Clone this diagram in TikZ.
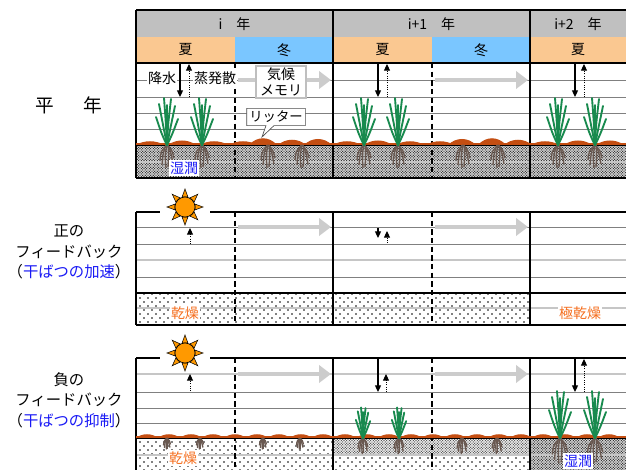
\documentclass[tikz,border=0pt]{standalone}
\usepackage{fontspec}
\setmainfont{Noto Sans CJK JP}
\usepackage{tikz}
\usetikzlibrary{shapes,shapes.callouts,arrows.meta,patterns}
\definecolor{natsu}{RGB}{250,200,145}
\definecolor{fuyu}{RGB}{122,198,255}
\definecolor{hdr}{RGB}{192,192,192}
\definecolor{leaf}{RGB}{24,138,78}
\definecolor{litter}{RGB}{196,78,18}
\definecolor{rootc}{RGB}{105,88,80}
\definecolor{sunc}{RGB}{255,153,0}
\definecolor{dryc}{RGB}{245,110,30}
\definecolor{wetc}{RGB}{25,25,245}
\pgfdeclarepatternformonly{drydots}{\pgfqpoint{-1pt}{-1pt}}{\pgfqpoint{7pt}{7pt}}{\pgfqpoint{6pt}{6pt}}{%
  \pgfpathcircle{\pgfqpoint{0pt}{0pt}}{0.6pt}%
  \pgfpathcircle{\pgfqpoint{3pt}{3pt}}{0.6pt}%
  \pgfusepath{fill}}
\pgfdeclarepatternformonly{wetdots}{\pgfqpoint{-0.5pt}{-0.5pt}}{\pgfqpoint{2.5pt}{2.5pt}}{\pgfqpoint{2pt}{2pt}}{%
  \pgfpathcircle{\pgfqpoint{0pt}{0pt}}{0.5pt}%
  \pgfpathcircle{\pgfqpoint{1pt}{1pt}}{0.5pt}%
  \pgfusepath{fill}}

\begin{document}
\begin{tikzpicture}[x=0.75pt,y=-0.75pt,
  frame/.style={line width=1.6pt},
  gridline/.style={gray, line width=0.6pt},
  lightline/.style={gray!45, line width=0.8pt},
  season/.style={dashed, dash pattern=on 4pt off 2.5pt, line width=1.2pt},
  memory/.style={gray!40, line width=3pt, -{Triangle[length=9pt,width=13pt]}},
  rain/.style={line width=0.9pt, -{Triangle[length=5pt,width=4.5pt]}},
  evap/.style={densely dotted, line width=0.7pt, -{Triangle[length=5pt,width=4.5pt]}},
  blade/.style={leaf, line width=1.4pt, line cap=round},
  root/.style={rootc, line width=1pt},
  lbl/.style={font=\fontsize{10.5}{12.5}\selectfont},
  side/.style={font=\fontsize{11.5}{15.5}\selectfont, align=center},
  tag/.style={lbl, fill=white, inner sep=1pt},
  wet/.style={pattern=wetdots, pattern color=black!85, preaction={fill=gray!28}},
  damp/.style={pattern=wetdots, pattern color=black!70, preaction={fill=gray!8}},
  dry/.style={pattern=drydots, pattern color=black},
  tuft/.pic={
    \draw[blade] (0,0) .. controls (-1,-20) .. (-3,-47);
    \draw[blade] (0,0) .. controls (1,-20) .. (4,-46);
    \draw[blade] (0,0) .. controls (0,-20) .. (0,-40);
    \draw[blade] (0,0) .. controls (-3,-15) .. (-8,-41);
    \draw[blade] (0,0) .. controls (3,-15) .. (8,-39);
    \draw[blade] (0,0) .. controls (-5,-10) .. (-11,-28);
    \draw[blade] (0,0) .. controls (5,-10) .. (11,-26);
  },
  roots/.pic={
    \draw[root] (-1,0) .. controls (-4,8) .. (-5,20);
    \draw[root] (0,0) .. controls (-2,10) .. (-1,23);
    \draw[root] (1,0) .. controls (2,10) .. (1,22);
    \draw[root] (1,0) .. controls (4,8) .. (6,19);
    \draw[root] (0,0) .. controls (-6,6) .. (-7,15);
    \draw[root] (0,0) .. controls (5,5) .. (7,13);
  },
  sun/.pic={
    \foreach \a in {0,45,...,315}
      \filldraw[fill=sunc, line width=0.4pt] (\a-16:10.5) -- (\a:18) -- (\a+16:10.5) -- cycle;
    \filldraw[fill=sunc, line width=0.5pt] (0,0) circle (10);
  }]
\useasboundingbox (0,0) rectangle (626,470);

% backgrounds and soil
\fill[hdr] (136,10) rectangle (626,37);
\foreach \a/\b/\c in {136/235/natsu,235/333/fuyu,333/432/natsu,432/530/fuyu,530/626/natsu}
  \fill[\c] (\a,37) rectangle (\b,63);
\fill[wet] (136,145) rectangle (626,178);
\fill[dry] (136,293) rectangle (530,325);
\fill[dry] (136,438) rectangle (333,470);
\fill[dry] (333,455) rectangle (530,470);
\fill[damp] (333,438) rectangle (530,455);
\fill[wet] (530,438) rectangle (626,470);

% layer lines
\foreach \y in {80,97,113,129,227,244,277,392,408,423}
  \draw[gridline] (136,\y) -- (626,\y);
\foreach \y in {162,260,308,374,455}
  \draw[lightline] (136,\y) -- (626,\y);
\foreach \x in {235,432} {
  \draw[season] (\x,63) -- (\x,178);
  \draw[season] (\x,212) -- (\x,325);
  \draw[season] (\x,358) -- (\x,470);
}

% frames
\draw[frame] (136,10) -- (626,10);
\draw[frame] (136,63) -- (626,63);
\draw[frame] (136,178) -- (626,178);
\draw[frame] (136,212) -- (160,212) (210,212) -- (626,212);
\draw[frame] (136,325) -- (626,325);
\draw[frame] (136,358) -- (160,358) (210,358) -- (626,358);
\foreach \x in {136,333,530} {
  \draw[frame] (\x,10) -- (\x,178);
  \draw[frame] (\x,212) -- (\x,325);
  \draw[frame] (\x,358) -- (\x,470);
}
\foreach \y in {145,293,438}
  \draw[line width=0.8pt] (136,\y) -- (626,\y);

% litter
\fill[litter] (136,143.5) rectangle (626,145.5);
\foreach \c/\h in {150/5,182/6,214/5,243/5,263/9,292/7,318/8,347/5,378/6,410/5,440/5,462/8,492/9,518/7,545/5,578/6,610/6}
  \fill[litter] (\c-14,145) .. controls (\c-6,145-\h) and (\c+6,145-\h) .. (\c+14,145) -- cycle;
\fill[litter] (136,436.5) rectangle (626,438.5);
\foreach \c in {147,169,...,626}
  \fill[litter] (\c-11,438) .. controls (\c-5,433) and (\c+5,433) .. (\c+11,438) -- cycle;

% plants and roots
\foreach \x in {167,202,268,302,364,398,463,498,558,595}
  \pic at (\x,145) {roots};
\foreach \x in {167,202,364,398,558,595}
  \pic at (\x,145) {tuft};
\foreach \x in {167,200,263,300}
  \pic[scale=0.5] at (\x,438) {roots};
\foreach \x in {363,399,462,497}
  \pic[scale=0.7] at (\x,438) {roots};
\foreach \x in {560,595}
  \pic[scale=1.1] at (\x,438) {roots};
\foreach \x in {363,399}
  \pic[scale=0.65] at (\x,438) {tuft};
\foreach \x in {560,595}
  \pic at (\x,438) {tuft};

% suns
\pic at (185,207) {sun};
\pic at (185,353) {sun};

% climate memory arrows
\foreach \y in {80,227,374} {
  \draw[memory] (238,\y) -- (331,\y);
  \draw[memory] (435,\y) -- (528,\y);
}

% rain and evapotranspiration
\foreach \x in {180,378,575} {
  \draw[rain] (\x,63) -- (\x,97);
  \draw[evap] (\x+9,97) -- (\x+9,64);
}
\draw[evap] (190,244) -- (190,228);
\draw[rain] (378,228) -- (378,238);
\draw[evap] (387,243) -- (387,231);
\draw[evap] (190,391) -- (190,374);
\draw[rain] (378,358) -- (378,392);
\draw[evap] (386,392) -- (386,374);
\draw[rain] (575,358) -- (575,392);
\draw[evap] (584,392) -- (584,359);

% texts
\node[lbl] (yr1) at (234.5,24) {i　年};
\node[lbl] (yr2) at (431.5,24) {i+1　年};
\node[lbl] (yr3) at (578,24) {i+2　年};
\foreach \x/\s [count=\n] in {185.5/夏,284/冬,382.5/夏,481/冬,578/夏}
  \node[lbl] (ssn\n) at (\x,50) {\s};
\node[tag] (kousui) at (162,78) {降水};
\node[tag] (jouhatsu) at (215,78) {蒸発散};
\node[lbl, draw=gray!50, line width=1.5pt, fill=white, align=center, inner xsep=3pt, inner ysep=1pt] (memo) at (281,82) {気候\\メモリ};
\node[rectangle callout, draw=black!70, fill=white, line width=0.5pt, inner sep=2pt,
  callout absolute pointer={(262,137)}, callout pointer width=6pt, font=\fontsize{10}{11}\selectfont] (litlbl) at (276,117) {リッター};
\node[tag, text=wetc] (wet1) at (184,168) {湿潤};
\node[tag, text=wetc] (wet3) at (578,461) {湿潤};
\node[tag, text=dryc] (dry2) at (185,313) {乾燥};
\node[tag, text=dryc] (dry3) at (183,458) {乾燥};
\node[tag, text=dryc] (xdry2) at (580,313) {極乾燥};

\node[font=\fontsize{14}{16}\selectfont] (heinen) at (69,105) {平\hspace{1.6em}年};
\node[side] (posfb) at (69,252) {正の\\フィードバック\\（{\color{wetc}干ばつの加速}）};
\node[side] (negfb) at (69,400) {負の\\フィードバック\\（{\color{wetc}干ばつの抑制}）};
\end{tikzpicture}
\end{document}
